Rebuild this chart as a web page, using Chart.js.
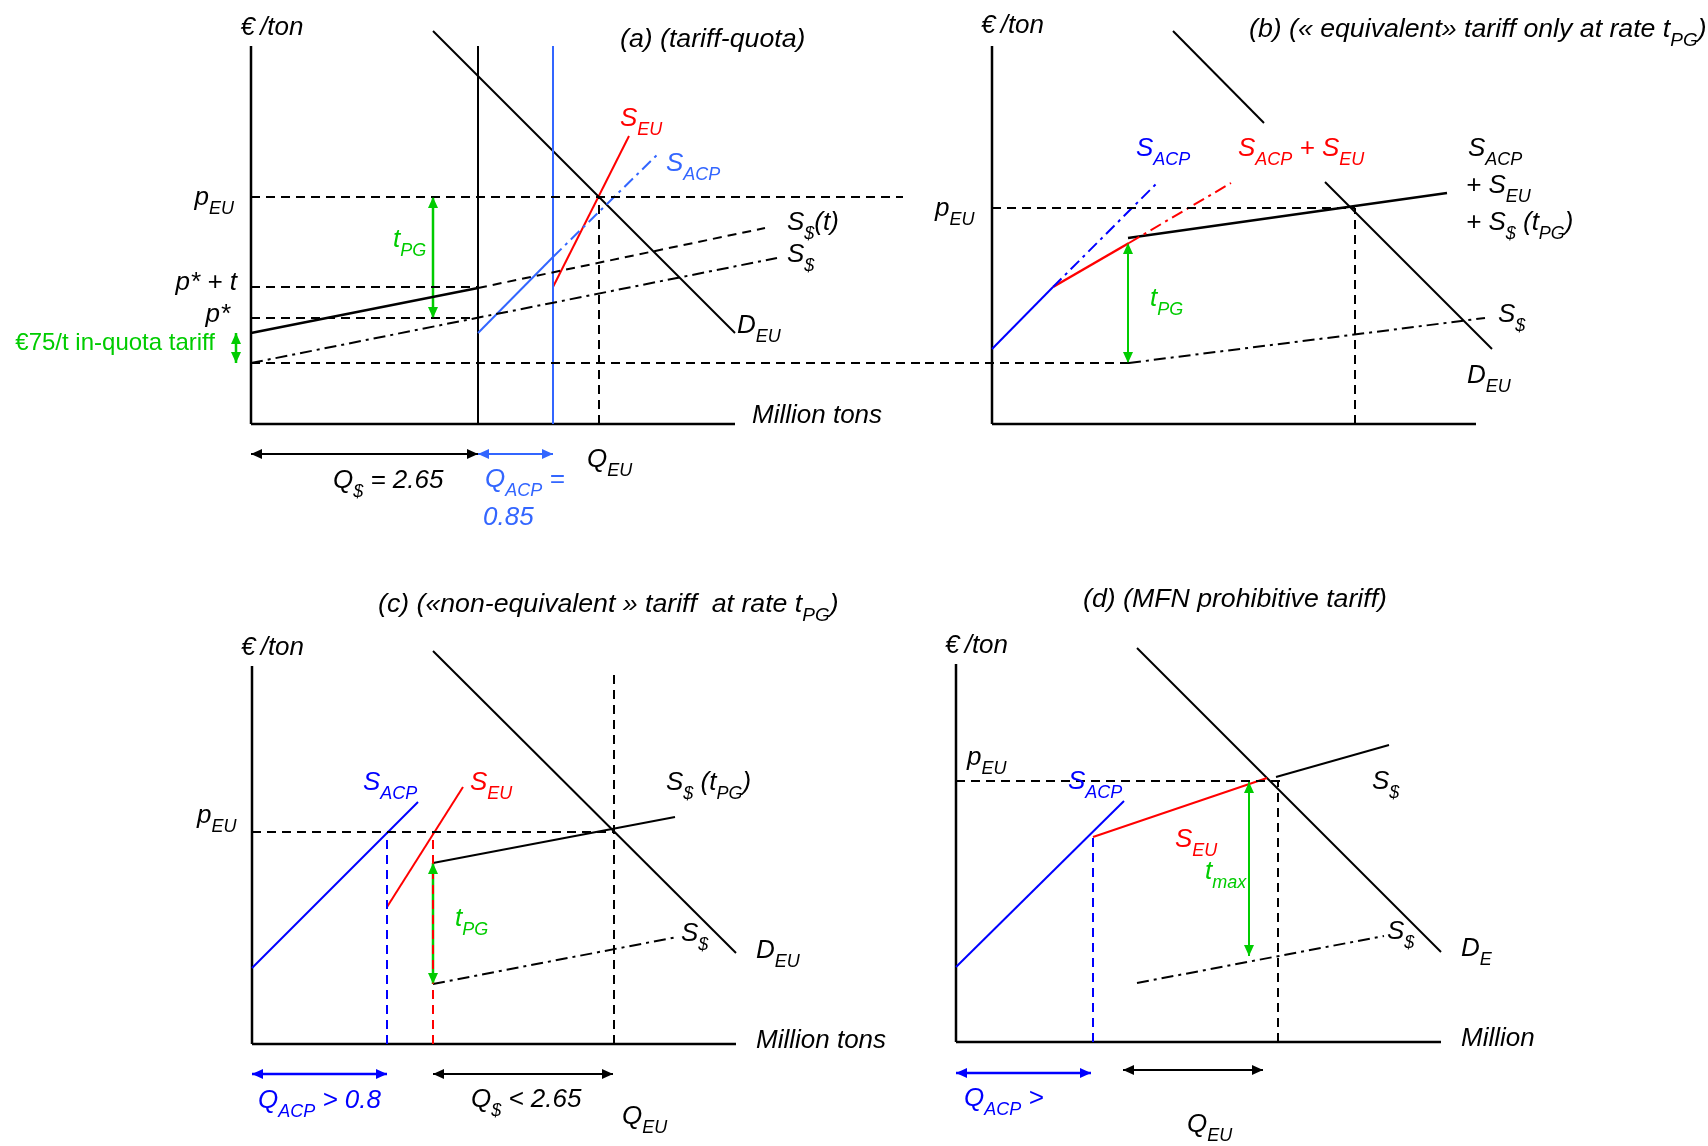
<!DOCTYPE html>
<html>
<head>
<meta charset="utf-8">
<title>Tariff-quota, equivalent and non-equivalent tariffs</title>
<script src="https://cdn.jsdelivr.net/npm/chart.js@4.4.1/dist/chart.umd.min.js"></script>
<style>
  body { margin: 0; background: #fff; }
  #wrap { position: relative; width: 1708px; height: 1146px; }
  .box { position: absolute; }
</style>
</head>
<body>
<div id="wrap">
  <div class="box" style="left:0;top:0"><canvas id="panelA" width="925" height="540"></canvas></div>
  <div class="box" style="left:925px;top:0"><canvas id="panelB" width="783" height="540"></canvas></div>
  <div class="box" style="left:0;top:540px"><canvas id="panelC" width="915" height="606"></canvas></div>
  <div class="box" style="left:915px;top:540px"><canvas id="panelD" width="793" height="606"></canvas></div>
</div>
<script>
// schematic units: quantity on x, price on y, origin at the axes corner

// (a) tariff-quota
const aAxisY = [[0, 0], [0, 37.8]];
const aAxisX = [[0, 0], [48.4, 0]];
const aQuota = [[22.7, 0], [22.7, 37.8]];
const aAcpQuota = [[30.2, 0], [30.2, 37.8]];
const aDemand = [[18.2, 39.3], [48.4, 9.1]];
const aPriceEU = [[0, 22.7], [65.2, 22.7]];
const aQtyEU = [[34.8, 0], [34.8, 22.7]];
const aPstarT = [[0, 13.7], [22.7, 13.7]];
const aPstar = [[0, 10.6], [22.7, 10.6]];
const aWorld = [[0, 6.1], [67.4, 6.1]];
const aSupplyW = [[0, 6.1], [52.6, 16.6]];
const aSupplyInQuota = [[0, 9.1], [22.7, 13.6]];
const aSupplyWt = [[22.7, 13.6], [51.4, 19.6]];
const aAcpSolid = [[22.7, 9.1], [30.2, 16.7]];
const aAcpDotted = [[30.2, 16.7], [40.9, 27.2]];
const aSupplyEU = [[30.2, 13.7], [37.8, 28.8]];
const aTariffArrow = [[18.2, 22.7], [18.2, 10.6]];
const aInQuotaArrow = [[-1.5, 9.1], [-1.5, 6.1]];
const aQArrowW = [[0, -3.0], [22.7, -3.0]];
const aQArrowAcp = [[22.7, -3.0], [30.2, -3.0]];

// (b) equivalent tariff
const bAxisY = [[0, 0], [0, 37.8]];
const bAxisX = [[0, 0], [48.4, 0]];
const bDemandTop = [[18.1, 39.3], [27.2, 30.1]];
const bDemandLow = [[33.3, 24.2], [50.0, 7.5]];
const bPriceEU = [[0, 21.6], [36.3, 21.6]];
const bQtyEU = [[36.3, 0], [36.3, 21.6]];
const bSupplyTotal = [[13.6, 18.6], [45.5, 23.1]];
const bAcpSolid = [[0, 7.5], [6.1, 13.7]];
const bAcpDotted = [[6.1, 13.7], [16.6, 24.2]];
const bEuSolid = [[6.1, 13.7], [13.7, 18.1]];
const bEuDotted = [[13.7, 18.1], [23.9, 24.1]];
const bTariffArrow = [[13.6, 18.1], [13.6, 6.1]];
const bWorld = [[-6.7, 6.1], [13.7, 6.1]];
const bSupplyW = [[13.7, 6.1], [49.3, 10.6]];

// (c) non-equivalent tariff
const cAxisY = [[0, 0], [0, 37.8]];
const cAxisX = [[0, 0], [48.4, 0]];
const cAcp = [[0, 7.6], [16.6, 24.2]];
const cAcpQty = [[13.5, 0], [13.5, 21.2]];
const cEu = [[13.5, 13.7], [21.1, 25.7]];
const cEuQty = [[18.1, 0], [18.1, 21.2]];
const cPriceEU = [[0, 21.2], [36.1, 21.2]];
const cSupplyWt = [[18.1, 18.1], [42.3, 22.7]];
const cDemand = [[18.1, 39.3], [48.4, 9.1]];
const cQtyEU = [[36.2, 0], [36.2, 36.9]];
const cSupplyW = [[18.1, 6.0], [42.5, 10.7]];
const cTariffArrow = [[18.1, 18.1], [18.1, 6.0]];
const cQArrowAcp = [[0, -3.0], [13.5, -3.0]];
const cQArrowW = [[18.1, -3.0], [36.1, -3.0]];

// (d) MFN prohibitive tariff
const dAxisY = [[0, 0], [0, 37.8]];
const dAxisX = [[0, 0], [48.5, 0]];
const dDemand = [[18.1, 39.4], [48.5, 9.0]];
const dPriceEU = [[0, 26.1], [32.6, 26.1]];
const dQtyEU = [[32.2, 0], [32.2, 26.1]];
const dSupplyWt = [[32.0, 26.5], [43.3, 29.7]];
const dEu = [[13.7, 20.5], [31.1, 26.4]];
const dAcp = [[0, 7.5], [16.8, 24.1]];
const dAcpQty = [[13.7, 0], [13.7, 20.5]];
const dTariffArrow = [[29.3, 26.0], [29.3, 8.6]];
const dSupplyW = [[18.1, 5.9], [42.8, 10.6]];
const dQArrowAcp = [[0, -3.1], [13.5, -3.1]];
const dQArrowEU = [[16.7, -2.8], [30.7, -2.8]];

const BLACK = '#000000', RED = '#ff0000', BLUE = '#0000ff', LBLUE = '#3366ff', GREEN = '#00cc00';
const DASH = [9, 6], DASHDOT = [12, 5, 3, 5];
const UNIT = '€\u2009/ton';
const TITLE = 26.7;

function seg(pts, color, dash, width, arrow) {
  return {
    data: pts.map(p => ({x: p[0], y: p[1]})),
    showLine: true,
    borderColor: color,
    borderWidth: width || 2,
    borderDash: dash || [],
    pointRadius: 0,
    fill: false,
    tension: 0,
    clip: false,
    arrow: arrow
  };
}

function head(ctx, tip, from, color) {
  const a = Math.atan2(tip.y - from.y, tip.x - from.x);
  const L = 11, W = 5;
  ctx.save();
  ctx.fillStyle = color;
  ctx.beginPath();
  ctx.moveTo(tip.x, tip.y);
  ctx.lineTo(tip.x - L * Math.cos(a) + W * Math.sin(a), tip.y - L * Math.sin(a) - W * Math.cos(a));
  ctx.lineTo(tip.x - L * Math.cos(a) - W * Math.sin(a), tip.y - L * Math.sin(a) + W * Math.cos(a));
  ctx.closePath();
  ctx.fill();
  ctx.restore();
}

const arrowHeads = {
  id: 'arrowHeads',
  afterDatasetsDraw(chart) {
    chart.data.datasets.forEach((ds, i) => {
      if (!ds.arrow) return;
      const pts = chart.getDatasetMeta(i).data;
      const a = pts[0], b = pts[pts.length - 1];
      head(chart.ctx, b, a, ds.borderColor);
      if (ds.arrow === 'both') head(chart.ctx, a, b, ds.borderColor);
    });
  }
};

// text with _{sub} parts
function drawRich(ctx, text, x, y, n) {
  const size = n.size || 26, sub = Math.round(size * 0.7);
  const style = n.upright ? '' : 'italic ';
  const parts = [];
  const re = /_\{([^}]*)\}/g;
  let last = 0, m;
  while ((m = re.exec(text))) {
    if (m.index > last) parts.push([text.slice(last, m.index), false]);
    parts.push([m[1], true]);
    last = re.lastIndex;
  }
  if (last < text.length) parts.push([text.slice(last), false]);
  const font = s => style + (s ? sub : size) + 'px "Liberation Sans", Arial, sans-serif';
  let w = 0;
  parts.forEach(p => { ctx.font = font(p[1]); w += ctx.measureText(p[0]).width; });
  let cx = n.align === 'right' ? x - w : n.align === 'center' ? x - w / 2 : x;
  ctx.save();
  ctx.fillStyle = n.color || BLACK;
  ctx.textAlign = 'left';
  ctx.textBaseline = 'alphabetic';
  parts.forEach(p => {
    ctx.font = font(p[1]);
    ctx.fillText(p[0], cx, y + (p[1] ? size * 0.35 : 0));
    cx += ctx.measureText(p[0]).width;
  });
  ctx.restore();
}

function makeNotes(items) {
  return {
    id: 'notes',
    afterDraw(chart) {
      const xs = chart.scales.x, ys = chart.scales.y;
      items.forEach(n => drawRich(chart.ctx, n.t, xs.getPixelForValue(n.x), ys.getPixelForValue(n.y), n));
    }
  };
}

function panel(id, xr, yr, datasets, items) {
  return new Chart(document.getElementById(id), {
    type: 'scatter',
    data: { datasets: datasets },
    options: {
      responsive: false,
      animation: false,
      events: [],
      layout: { padding: 0 },
      scales: {
        x: { type: 'linear', display: false, min: xr[0], max: xr[1] },
        y: { type: 'linear', display: false, min: yr[0], max: yr[1] }
      },
      plugins: { legend: { display: false }, tooltip: { enabled: false } }
    },
    plugins: [arrowHeads, makeNotes(items)]
  });
}

panel('panelA', [-25.1, 67.4], [-11.6, 42.4], [
  seg(aPriceEU, BLACK, DASH),
  seg(aQtyEU, BLACK, DASH),
  seg(aPstarT, BLACK, DASH),
  seg(aPstar, BLACK, DASH),
  seg(aWorld, BLACK, DASH),
  seg(aSupplyW, BLACK, DASHDOT),
  seg(aSupplyWt, BLACK, DASH),
  seg(aSupplyInQuota, BLACK, [], 2.5),
  seg(aAcpDotted, LBLUE, DASHDOT),
  seg(aAcpSolid, LBLUE),
  seg(aAcpQuota, LBLUE),
  seg(aQuota, BLACK),
  seg(aDemand, BLACK),
  seg(aSupplyEU, RED),
  seg(aTariffArrow, GREEN, [], 2.5, 'both'),
  seg(aInQuotaArrow, GREEN, [], 2.5, 'both'),
  seg(aQArrowW, BLACK, [], 2, 'both'),
  seg(aQArrowAcp, LBLUE, [], 2, 'both'),
  seg(aAxisY, BLACK, [], 2.5),
  seg(aAxisX, BLACK, [], 2.5)
], [
  {t: UNIT, x: 2.1, y: 38.9, align: 'center'},
  {t: '(a) (tariff-quota)', x: 36.9, y: 37.7, size: TITLE},
  {t: 'p_{EU}', x: -1.7, y: 21.9, align: 'right'},
  {t: 'p* + t', x: -1.4, y: 13.4, align: 'right'},
  {t: 'p*', x: -2.1, y: 10.2, align: 'right'},
  {t: '€75/t in-quota tariff', x: -3.6, y: 7.4, align: 'right', upright: true, size: 24, color: GREEN},
  {t: 't_{PG}', x: 14.2, y: 17.7, color: GREEN},
  {t: 'S_{EU}', x: 36.9, y: 29.8, color: RED},
  {t: 'S_{ACP}', x: 41.5, y: 25.3, color: LBLUE},
  {t: 'S_{$}(t)', x: 53.6, y: 19.4},
  {t: 'S_{$}', x: 53.6, y: 16.2},
  {t: 'D_{EU}', x: 48.6, y: 9.1},
  {t: 'Million tons', x: 50.1, y: 0.1},
  {t: 'Q_{$} = 2.65', x: 8.2, y: -6.4},
  {t: 'Q_{EU}', x: 33.6, y: -4.3},
  {t: 'Q_{ACP} =', x: 23.4, y: -6.3, color: LBLUE},
  {t: '0.85', x: 23.2, y: -10.1, color: LBLUE}
]);

panel('panelB', [-6.7, 71.6], [-11.6, 42.4], [
  seg(bPriceEU, BLACK, DASH),
  seg(bQtyEU, BLACK, DASH),
  seg(bWorld, BLACK, DASH),
  seg(bSupplyW, BLACK, DASHDOT),
  seg(bAcpDotted, BLUE, DASHDOT),
  seg(bEuDotted, RED, DASHDOT),
  seg(bAcpSolid, BLUE),
  seg(bEuSolid, RED, [], 2.5),
  seg(bSupplyTotal, BLACK, [], 2.5),
  seg(bDemandTop, BLACK),
  seg(bDemandLow, BLACK),
  seg(bTariffArrow, GREEN, [], 2, 'both'),
  seg(bAxisY, BLACK, [], 2.5),
  seg(bAxisX, BLACK, [], 2.5)
], [
  {t: UNIT, x: -1.1, y: 39.1},
  {t: '(b) (« equivalent» tariff only at rate t_{PG})', x: 25.7, y: 38.7, size: TITLE},
  {t: 'p_{EU}', x: -5.7, y: 20.8},
  {t: 'S_{ACP}', x: 14.4, y: 26.8, color: BLUE},
  {t: 'S_{ACP} + S_{EU}', x: 24.6, y: 26.8, color: RED},
  {t: 'S_{ACP}', x: 47.6, y: 26.8},
  {t: '+ S_{EU}', x: 47.4, y: 23.1},
  {t: '+ S_{$} (t_{PG})', x: 47.4, y: 19.4},
  {t: 't_{PG}', x: 15.8, y: 11.8, color: GREEN},
  {t: 'S_{$}', x: 50.6, y: 10.2},
  {t: 'D_{EU}', x: 47.5, y: 4.1}
]);

panel('panelC', [-25.2, 66.3], [-10.2, 50.4], [
  seg(cPriceEU, BLACK, DASH),
  seg(cQtyEU, BLACK, DASH),
  seg(cAcpQty, BLUE, DASH),
  seg(cEuQty, RED, DASH),
  seg(cSupplyW, BLACK, DASHDOT),
  seg(cAcp, BLUE),
  seg(cEu, RED),
  seg(cSupplyWt, BLACK),
  seg(cDemand, BLACK),
  seg(cTariffArrow, GREEN, [], 2.5, 'both'),
  seg(cQArrowAcp, BLUE, [], 2.5, 'both'),
  seg(cQArrowW, BLACK, [], 2, 'both'),
  seg(cAxisY, BLACK, [], 2.5),
  seg(cAxisX, BLACK, [], 2.5)
], [
  {t: UNIT, x: -1.1, y: 38.9},
  {t: '(c) («non-equivalent » tariff  at rate t_{PG})', x: 12.6, y: 43.2, size: TITLE},
  {t: 'p_{EU}', x: -5.5, y: 22.1},
  {t: 'S_{ACP}', x: 11.1, y: 25.4, color: BLUE},
  {t: 'S_{EU}', x: 21.8, y: 25.4, color: RED},
  {t: 'S_{$} (t_{PG})', x: 41.4, y: 25.4},
  {t: 't_{PG}', x: 20.3, y: 11.8, color: GREEN},
  {t: 'S_{$}', x: 42.9, y: 10.3},
  {t: 'D_{EU}', x: 50.4, y: 8.6},
  {t: 'Million tons', x: 50.4, y: -0.4},
  {t: 'Q_{ACP} > 0.8', x: 0.6, y: -6.4, color: BLUE},
  {t: 'Q_{$} < 2.65', x: 21.9, y: -6.3},
  {t: 'Q_{EU}', x: 37.0, y: -8.0}
]);

panel('panelD', [-4.1, 75.2], [-10.4, 50.2], [
  seg(dPriceEU, BLACK, DASH),
  seg(dQtyEU, BLACK, DASH),
  seg(dAcpQty, BLUE, DASH),
  seg(dSupplyW, BLACK, DASHDOT),
  seg(dAcp, BLUE),
  seg(dEu, RED),
  seg(dSupplyWt, BLACK),
  seg(dDemand, BLACK),
  seg(dTariffArrow, GREEN, [], 2, 'both'),
  seg(dQArrowAcp, BLUE, [], 2.5, 'both'),
  seg(dQArrowEU, BLACK, [], 2, 'both'),
  seg(dAxisY, BLACK, [], 2.5),
  seg(dAxisX, BLACK, [], 2.5)
], [
  {t: UNIT, x: -1.1, y: 38.9},
  {t: '(d) (MFN prohibitive tariff)', x: 12.7, y: 43.5, size: TITLE},
  {t: 'p_{EU}', x: 1.1, y: 27.7},
  {t: 'S_{ACP}', x: 11.2, y: 25.3, color: BLUE},
  {t: 'S_{$}', x: 41.6, y: 25.3},
  {t: 'S_{EU}', x: 21.9, y: 19.5, color: RED},
  {t: 't_{max}', x: 24.9, y: 16.3, color: GREEN},
  {t: 'S_{$}', x: 43.1, y: 10.3},
  {t: 'D_{E}', x: 50.5, y: 8.6},
  {t: 'Million', x: 50.5, y: -0.4},
  {t: 'Q_{ACP} >', x: 0.8, y: -6.4, color: BLUE},
  {t: 'Q_{EU}', x: 23.1, y: -9.0}
]);
</script>
</body>
</html>
